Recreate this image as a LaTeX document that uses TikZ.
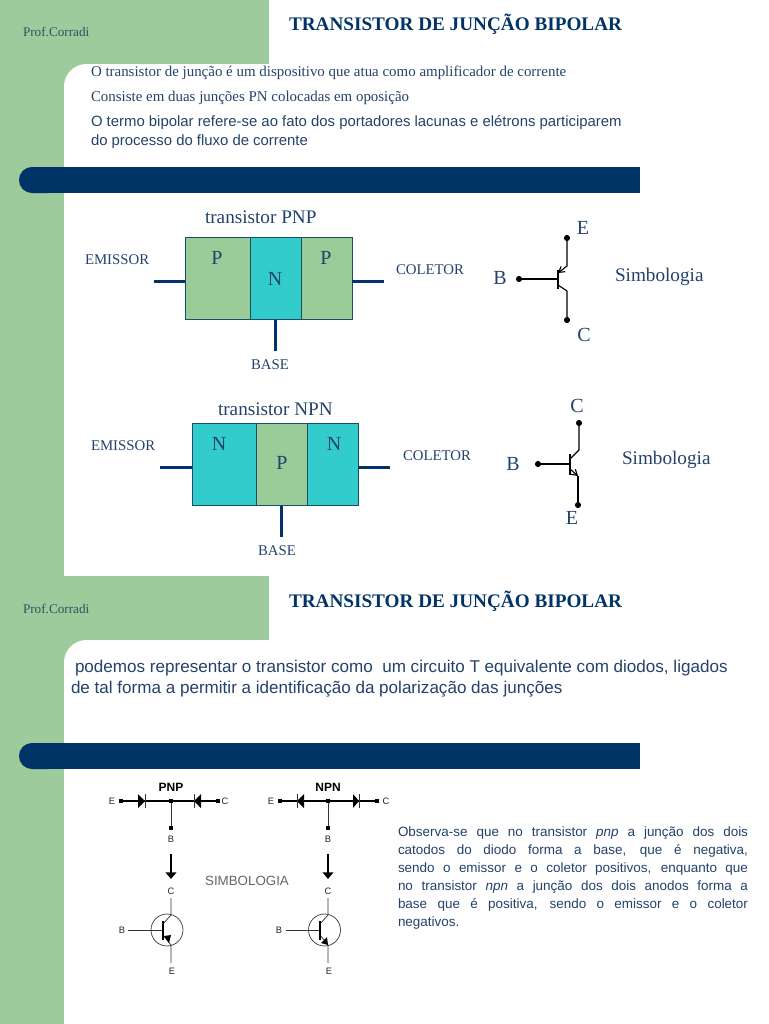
\documentclass[tikz,border=0pt]{standalone}
\usepackage{fontspec}
\setmainfont{Liberation Serif}
\setsansfont{Liberation Sans}
\usetikzlibrary{arrows.meta}
\definecolor{sgreen}{HTML}{9DCB9B}
\definecolor{navy}{HTML}{003366}
\definecolor{txt}{HTML}{24426A}
\definecolor{pfill}{HTML}{99CC99}
\definecolor{nfill}{HTML}{33CCCC}
\definecolor{boxline}{HTML}{17505F}
\definecolor{prof}{HTML}{2A5560}
\tikzset{
  x=0.75pt,y=-0.75pt,
  lbl/.style={inner sep=0,outer sep=0,text=txt,anchor=base west},
  ttl/.style={lbl,font=\bfseries\fontsize{14.4}{16}\selectfont,text=navy},
  profl/.style={lbl,font=\fontsize{9.9}{11}\selectfont,text=prof},
  serA/.style={lbl,font=\fontsize{11.2}{12}\selectfont},
  sanA/.style={lbl,font=\sffamily\fontsize{11.17}{12}\selectfont},
  sanB/.style={lbl,font=\sffamily\fontsize{12.8}{14}\selectfont},
  big/.style={lbl,font=\fontsize{14.4}{16}\selectfont},
  small/.style={lbl,font=\fontsize{11.1}{12}\selectfont},
  letter/.style={inner sep=0,outer sep=0,text=txt,font=\fontsize{15}{16}\selectfont},
  pbox/.style={draw=boxline,fill=pfill,line width=.6pt},
  nbox/.style={draw=boxline,fill=nfill,line width=.6pt},
  lead/.style={draw=navy,line width=2.25pt},
  dot/.style={circle,fill=black,inner sep=0,minimum size=4.6pt,outer sep=0},
  wire/.style={draw=black,line width=.85pt},
  sdot/.style={rectangle,fill=black,inner sep=0,minimum size=3pt,outer sep=0},
  thin wire/.style={draw=black!80,line width=.55pt},
  tiny/.style={inner sep=0,outer sep=0,text=black!85,font=\sffamily\fontsize{7}{8}\selectfont},
  head/.style={inner sep=0,outer sep=0,text=black,font=\sffamily\bfseries\fontsize{9}{10}\selectfont},
}
\newcommand{\slidebg}[1]{%
  \fill[sgreen] (0,#1) rectangle (269,#1+64);
  \fill[sgreen] (64,#1+64) -- (86,#1+64) .. controls (74,#1+64) and (64,#1+74) .. (64,#1+86) -- cycle;
}
\newcommand{\navybar}[2]{%
  \fill[navy,rounded corners=9.7pt] (#1,#2) rectangle (60,#2+26);
  \fill[navy] (40,#2) rectangle (640,#2+26);
}
\begin{document}
\begin{tikzpicture}
\useasboundingbox (0,0) rectangle (768,1024);
\fill[white] (0,0) rectangle (768,1024);
\fill[sgreen] (0,0) rectangle (64,1024);
\slidebg{0}
\slidebg{576}
\navybar{19}{167}
\navybar{19}{743}

% ---- slide 1 text
\node[profl] (prof1) at (23,37) {Prof.Corradi};
\node[ttl] (title1) at (289,31) {TRANSISTOR DE JUNÇÃO BIPOLAR};
\node[serA] (t1) at (91,76) {O transistor de junção é um dispositivo que atua como amplificador de corrente};
\node[serA] (t2) at (91,101) {Consiste em duas junções PN colocadas em oposição};
\node[sanA] (t3) at (91,126) {O termo bipolar refere-se ao fato dos portadores lacunas e elétrons participarem};
\node[sanA] (t4) at (91,145) {do processo do fluxo de corrente};

% ---- PNP block
\node[big] (lpnp) at (205,223) {transistor PNP};
\draw[pbox] (185,237) rectangle (250,319);
\draw[nbox] (250,237) rectangle (301,319);
\draw[pbox] (301,237) rectangle (352,319);
\coordinate (pl) at (185,281); \coordinate (pla) at (154,281);
\coordinate (pr) at (352,281); \coordinate (pra) at (384,281);
\coordinate (pb) at (275,320); \coordinate (pba) at (275,351);
\draw[lead] (pla) -- (pl);
\draw[lead] (pr) -- (pra);
\draw[lead] (pb) -- (pba);
\node[letter] (pp1) at (217,258) {P};
\node[letter] (pn1) at (275,279) {N};
\node[letter] (pp2) at (326,258) {P};
\node[small] (pem) at (85,264) {EMISSOR};
\node[small] (pcol) at (396,274) {COLETOR};
\node[small] (pbase) at (251,369) {BASE};

% ---- PNP symbol
\node[dot] (sB) at (519,279) {};
\node[dot] (sE) at (567,238) {};
\node[dot] (sC) at (567,320) {};
\coordinate (sbb) at (558,279);
\coordinate (sb1) at (558,270); \coordinate (sb2) at (558,289);
\coordinate (sek) at (567,266); \coordinate (see) at (558,273);
\coordinate (sck) at (567,291); \coordinate (scc) at (558,285);
\draw[wire] (sB) -- (sbb);
\draw[wire] (sb1) -- (sb2);
\draw[wire,-{Straight Barb[length=4pt,width=5pt]}] (sE) -- (sek) -- (see);
\draw[wire] (sC) -- (sck) -- (scc);
\node[letter] (lsE) at (583,228) {E};
\node[letter] (lsB) at (500,278) {B};
\node[letter] (lsC) at (584,335) {C};
\node[big] (simb1) at (615,281) {Simbologia};

% ---- NPN block
\node[big] (lnpn) at (218,415) {transistor NPN};
\draw[nbox] (192,423) rectangle (256,505);
\draw[pbox] (256,423) rectangle (307,505);
\draw[nbox] (307,423) rectangle (358,505);
\coordinate (nl) at (192,467); \coordinate (nla) at (160,467);
\coordinate (nr) at (358,467); \coordinate (nra) at (390,467);
\coordinate (nb) at (281,506); \coordinate (nba) at (281,537);
\draw[lead] (nla) -- (nl);
\draw[lead] (nr) -- (nra);
\draw[lead] (nb) -- (nba);
\node[letter] (nn1) at (219,444) {N};
\node[letter] (np1) at (282,463) {P};
\node[letter] (nn2) at (334,444) {N};
\node[small] (nem) at (91,450) {EMISSOR};
\node[small] (ncol) at (403,460) {COLETOR};
\node[small] (nbase) at (258,555) {BASE};

% ---- NPN symbol
\node[dot] (tB) at (538,464) {};
\node[dot] (tC) at (579,423) {};
\node[dot] (tE) at (578,505) {};
\coordinate (tbb) at (570,464);
\coordinate (tb1) at (570,454); \coordinate (tb2) at (570,475);
\coordinate (tck) at (579,450); \coordinate (tcc) at (570,459);
\coordinate (tek) at (578,476); \coordinate (tee) at (570,469);
\draw[wire] (tB) -- (tbb);
\draw[wire] (tb1) -- (tb2);
\draw[wire] (tC) -- (tck) -- (tcc);
\draw[wire,-{Straight Barb[length=4pt,width=5pt]}] (tee) -- (tek);
\draw[wire] (tek) -- (tE);
\node[letter] (ltC) at (577,406) {C};
\node[letter] (ltB) at (513,464) {B};
\node[letter] (ltE) at (572,518) {E};
\node[big] (simb2) at (622,464) {Simbologia};

% ---- slide 2 text
\node[profl] (prof2) at (23,613) {Prof.Corradi};
\node[ttl] (title2) at (289,607) {TRANSISTOR DE JUNÇÃO BIPOLAR};
\node[sanB] (u1) at (75,672) {podemos representar o transistor como\ \ um circuito T equivalente com diodos, ligados};
\node[sanB] (u2) at (71,693) {de tal forma a permitir a identificação da polarização das junções};

% ---- paragraph
\node[inner sep=0,outer sep=0,anchor=north west,text=txt,text width=262.5pt,
  font=\sffamily\fontsize{10.1}{13.5}\selectfont,align=justify] (para) at (398,826.5)
 {Observa-se que no transistor \emph{pnp} a junção dos dois\linebreak
  catodos do diodo forma a base, que é negativa,\linebreak
  sendo o emissor e o coletor positivos, enquanto que\linebreak
  no transistor \emph{npn} a junção dos dois anodos forma a\linebreak
  base que é positiva, sendo o emissor e o coletor\linebreak
  negativos.};

% ---- PNP diode circuit
\node[head] (hp) at (171,787) {PNP};
\node[sdot] (dE) at (121,801) {};
\node[sdot] (dC) at (218,801) {};
\node[sdot] (dJ) at (171,801) {};
\node[sdot] (dB) at (171,828) {};
\draw[wire] (dE) -- (dC);
\draw[thin wire] (dJ) -- (dB);
\fill (138,794) -- (145,801) -- (138,808) -- cycle;
\draw[thin wire] (145,794) -- (145,808);
\fill (201,794) -- (194,801) -- (201,808) -- cycle;
\draw[thin wire] (194,794) -- (194,808);
\node[tiny] (deE) at (112,801) {E};
\node[tiny] (deC) at (225,801) {C};
\node[tiny] (deB) at (171,839) {B};
\coordinate (a1s) at (171,854); \coordinate (a1e) at (171,879);
\draw[line width=1.3pt,-{Triangle[length=5pt,width=8pt]}] (a1s) -- (a1e);

% ---- NPN diode circuit
\node[head] (hn) at (328,787) {NPN};
\node[sdot] (fE) at (280,801) {};
\node[sdot] (fC) at (377,801) {};
\node[sdot] (fJ) at (328,801) {};
\node[sdot] (fB) at (328,828) {};
\draw[wire] (fE) -- (fC);
\draw[thin wire] (fJ) -- (fB);
\fill (304,794) -- (297,801) -- (304,808) -- cycle;
\draw[thin wire] (297,794) -- (297,808);
\fill (353,794) -- (359,801) -- (353,808) -- cycle;
\draw[thin wire] (359,794) -- (359,808);
\node[tiny] (feE) at (271,801) {E};
\node[tiny] (feC) at (386,801) {C};
\node[tiny] (feB) at (328,839) {B};
\coordinate (a2s) at (328,854); \coordinate (a2e) at (328,879);
\draw[line width=1.3pt,-{Triangle[length=5pt,width=8pt]}] (a2s) -- (a2e);

\node[inner sep=0,outer sep=0,text=black!60,font=\sffamily\fontsize{10}{11}\selectfont] (simb3) at (247,881) {SIMBOLOGIA};

% ---- lower transistor symbols
\node[circle,draw=black!75,line width=.55pt,minimum size=24pt,inner sep=0,outer sep=0] (c1) at (167,930) {};
\coordinate (c1C) at (171,898); \coordinate (c1Ci) at (171,915);
\coordinate (c1E) at (171,963); \coordinate (c1Ei) at (171,945);
\coordinate (c1B) at (128,930); \coordinate (c1Bi) at (163,930);
\draw[thin wire] (c1C) -- (c1Ci) -- (163,924);
\draw[thin wire] (c1E) -- (c1Ei) -- (163,935);
\draw[thin wire] (c1B) -- (c1Bi);
\draw[wire] (163,921) -- (163,940);
\fill (164,936) -- (171,935) -- (169,943) -- cycle;
\node[tiny] (l1C) at (171,891) {C};
\node[tiny] (l1B) at (122,930) {B};
\node[tiny] (l1E) at (172,971) {E};

\node[circle,draw=black!75,line width=.55pt,minimum size=24pt,inner sep=0,outer sep=0] (c2) at (324.5,930) {};
\coordinate (c2C) at (328,898); \coordinate (c2Ci) at (328,915);
\coordinate (c2E) at (328,963); \coordinate (c2Ei) at (328,945);
\coordinate (c2B) at (286,930); \coordinate (c2Bi) at (320,930);
\draw[thin wire] (c2C) -- (c2Ci) -- (320,924);
\draw[thin wire] (c2E) -- (c2Ei) -- (320,935);
\draw[thin wire] (c2B) -- (c2Bi);
\draw[wire] (320,921) -- (320,940);
\fill (328,945) -- (321,943) -- (327,937) -- cycle;
\node[tiny] (l2C) at (328,891) {C};
\node[tiny] (l2B) at (279,930) {B};
\node[tiny] (l2E) at (329,971) {E};
\end{tikzpicture}
\end{document}
